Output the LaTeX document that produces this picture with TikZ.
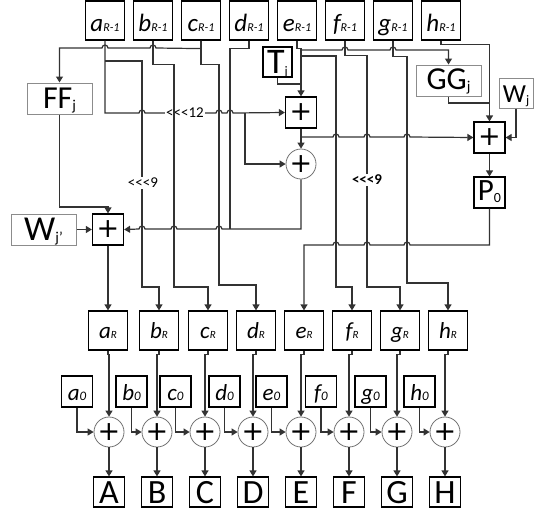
\documentclass[tikz,border=0pt]{standalone}
\usepackage{fontspec}
\setmainfont{Carlito}
\newfontfamily\plusfont{DejaVu Sans}
\newfontfamily\rotfont{Carlito}
\usetikzlibrary{arrows.meta}

\newcommand\fs[1]{\fontsize{#1}{#1}\selectfont}
\newcommand\regname[4]{{\fs{#3}\itshape #1}{\fs{#4}\itshape #2}}
\newcommand\bigname[4]{{\fs{#3}#1}\raisebox{-2pt}{\fs{#4}#2}}
\newcommand\hopr[2]{-- (#1-3,#2) arc[start angle=180,end angle=360,radius=3]}
\newcommand\hopl[2]{-- (#1+3,#2) arc[start angle=0,end angle=-180,radius=3]}

\tikzset{
  wire/.style={line width=1.2pt, draw=black!80},
  arr/.style={wire, -{Triangle[length=6pt,width=7pt]}},
  reg/.style={draw, line width=1.2pt, minimum width=39pt, minimum height=39pt, inner sep=0pt},
  func/.style={draw=black!45, line width=1pt, minimum width=65pt, minimum height=31pt, inner sep=0pt},
  small/.style={draw, line width=1.2pt, minimum width=31pt, minimum height=31pt, inner sep=0pt},
  addbox/.style={draw, line width=1.2pt, minimum size=31pt, inner sep=0pt, font=\plusfont\fs{27}},
  xorc/.style={circle, draw=black!55, line width=0.8pt, minimum size=30pt, inner sep=0pt, font=\plusfont\fs{27}},
  shiftlab/.style={fill=white, inner sep=1pt, font=\rotfont\fs{15}},
}

\begin{document}
\begin{tikzpicture}[x=1pt, y=-1pt]
    \useasboundingbox (0,0) rectangle (534,517);
    % registers of round R-1
    \foreach \n [count=\i from 0] in {a,b,c,d,e,f,g,h} {
        \node[reg, text height=22pt, text depth=0pt] (prev\n) at (105+48*\i,20.5) {\regname{\n}{R-1}{25}{12}};
    }
    \node[func, text height=19pt, text depth=0pt] (ff) at (59.5,98.5) {\bigname{FF}{j}{32}{15}};
    \node[func, text height=17pt, text depth=0pt] (gg) at (448.5,80.5) {\bigname{GG}{j}{32}{15}};
    \node[draw, line width=1.2pt, minimum width=29pt, minimum height=30pt, inner sep=0pt, text height=23pt, text depth=0pt] (tj) at (277.5,62) {\bigname{T}{j}{36}{13}};
    \node[func, minimum width=34pt, minimum height=30pt, text height=18pt, text depth=0pt] (wj) at (516,93) {\bigname{W}{j}{26}{13}};
    \node[func, text height=21pt, text depth=0pt] (wp) at (43.5,229.5) {\bigname{W}{j'}{35}{15}};
    \node[small, text height=16pt, text depth=0pt] (p0) at (489.5,192.5) {\bigname{P}{0}{31}{14}};
    \node[addbox] (add1) at (301,112.5) {+};
    \node[addbox] (add2) at (108,229.5) {+};
    \node[addbox] (add3) at (489.5,137.5) {+};
    \node[xorc] (xr) at (301,164) {+};
    % registers of round R, constants and output
    \foreach \n/\N/\r/\o/\s in {a/A/108/77/109, b/B/159/131.5/157, c/C/208/175.5/205, d/D/256/224.5/253,
                                e/E/304/271.5/301, f/F/352/321/349, g/G/400/370.5/397, h/H/448/419.5/445} {
        \node[reg, text height=16pt, text depth=0pt] (new\n) at (\r,330.5) {\regname{\n}{R}{23}{11}};
        \node[small, text height=18pt, text depth=0pt] (init\n) at (\o,391.5) {\regname{\n}{0}{23}{13}};
        \node[xorc] (sum\n) at (\s,432) {+};
        \node[small, minimum height=30pt, text height=22pt, text depth=0pt] (out\n) at (\s,492) {\fs{34}\N};
        \draw[arr] (new\n.south) -- ++(0,4) -| (sum\n.north);
        \draw[arr] (init\n.south) |- (sum\n.west);
        \draw[arr] (sum\n.south) -- (out\n.north);
    }
    % left half
    \draw[arr] (prevc.south) -- ++(0,8) \hopl{153}{48} \hopl{105}{48} -| (ff.north);
    \draw[arr] (preva.south) -- (105,113) \hopr{142}{113} -- (185,113) node[shiftlab] (rot12) {<<<12} \hopr{219}{113} \hopr{230}{113} -- (add1.west);
    \coordinate (asplit) at (105,61);
    \draw[arr] (asplit) -- (142,61) -- (142,287) -| (newb.north);
    \node[shiftlab] (rot9a) at (143,183) {<<<9};
    \draw[arr] (prevb.south) -- ++(0,24) -| (174,287) -| (newc.north);
    \draw[arr] (prevc.south) -- ++(0,24) -| (219,285) -| (newd.north);
    \draw[wire] (prevd.south) -- ++(0,8) -| (230,229);
    \coordinate (xsplit) at (245,113);
    \draw[arr] (xsplit) |- (xr.west);
    \draw[arr] (add1.south) -- (xr.north);
    \draw[arr] (xr.south) -- (301,229) \hopl{219}{229} \hopl{174}{229} \hopl{142}{229} -- (add2.east);
    \draw[arr] (ff.south) -- (59.5,207) -| (add2.north);
    \draw[arr] (wp.east) -- (add2.west);
    \draw[arr] (add2.south) -- (newa.north);
    % right half
    \draw[wire] (tj.south) |- (301,84);
    \draw[arr] (preve.south) -- ++(0,8) -| (add1.north);
    \coordinate (egg) at (301,50);
    \draw[arr] (egg) \hopr{345}{50} \hopr{393}{50} -| (gg.north);
    \coordinate (ef) at (301,56);
    \draw[arr] (ef) -- (336,56) -- (336,287) -| (newf.north);
    \draw[arr] (prevf.south) -- ++(0,15) -| (367,287) -| (newg.north);
    \node[shiftlab, font=\rotfont\bfseries\fs{15}] (rot9e) at (367,180) {<<<9};
    \draw[arr] (prevg.south) -- ++(0,16) -| (407,283) -| (newh.north);
    \draw[arr] (prevh.south) -- ++(0,4) -| (add3.north);
    \draw[wire] (gg.south) |- (489.5,103);
    \draw[arr] (wj.south) |- (add3.east);
    \coordinate (ttsplit) at (301,137);
    \draw[arr] (ttsplit) \hopr{336}{137} \hopr{367}{137} \hopr{407}{137} -- (add3.west);
    \draw[arr] (add3.south) -- (p0.north);
    \draw[arr] (p0.south) -- (489.5,245) \hopl{407}{245} \hopl{367}{245} \hopl{336}{245} -| (newe.north);
\end{tikzpicture}
\end{document}
